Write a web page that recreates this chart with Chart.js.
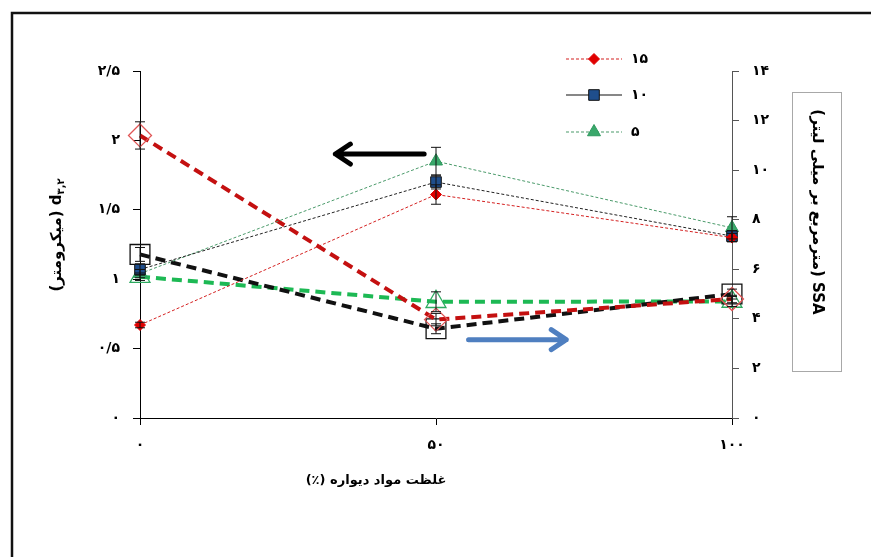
<!DOCTYPE html>
<html>
<head>
<meta charset="utf-8">
<script src="https://cdn.jsdelivr.net/npm/chart.js@4/dist/chart.umd.min.js"></script>
<style>
  html, body { margin: 0; padding: 0; background: #fff; }
  canvas { display: block; }
</style>
</head>
<body>
<canvas id="c" width="871" height="557"></canvas>
<script>
// Wall material concentration (%) on the x axis
const wallPercent = [0, 50, 100];
const xTickLabels = ['۰', '۵۰', '۱۰۰'];
const seriesNames = ['۱۵', '۱۰', '۵'];

// Mean droplet size d3,2 (micrometre) – left axis
const d32_15 = [0.67, 1.61, 1.30];
const d32_10 = [1.07, 1.70, 1.31];
const d32_5  = [1.04, 1.85, 1.37];
const d32_15_err = [0.02, 0.07, 0.03];
const d32_10_err = [0.04, 0.05, 0.04];
const d32_5_err  = [0.03, 0.10, 0.08];
const leftTickLabels = ['۰', '۰/۵', '۱', '۱/۵', '۲', '۲/۵'];

// Specific surface area SSA (m2/mL) – right axis
const ssa_15 = [11.4, 3.97, 4.80];
const ssa_10 = [6.6, 3.60, 5.00];
const ssa_5  = [5.7, 4.69, 4.70];
const ssa_15_err = [0.55, 0.25, 0.15];
const ssa_10_err = [0.28, 0.20, 0.20];
const ssa_5_err  = [0.15, 0.40, 0.20];
const rightTickLabels = ['۰', '۲', '۴', '۶', '۸', '۱۰', '۱۲', '۱۴'];

const toPoints = ys => wallPercent.map((x, i) => ({ x, y: ys[i] }));
const FONT = '"DejaVu Sans", sans-serif';

function thinSet(label, ys, err, color, markerFill, style, radius, lineColor) {
  return {
    label, data: toPoints(ys), errorBars: err, yAxisID: 'yL',
    borderColor: lineColor, borderWidth: 1, borderDash: [3, 2],
    pointStyle: style, pointRadius: radius,
    pointBackgroundColor: markerFill, pointBorderColor: color, pointBorderWidth: 1,
    clip: false, order: 1
  };
}
function thickSet(label, ys, err, lineColor, markerColor, style, radius) {
  return {
    label, data: toPoints(ys), errorBars: err, yAxisID: 'yR',
    borderColor: lineColor, borderWidth: 4, borderDash: [10, 6],
    pointStyle: style, pointRadius: radius,
    pointBackgroundColor: 'rgba(0,0,0,0)', pointBorderColor: markerColor, pointBorderWidth: 1.3,
    clip: false, order: 2
  };
}

const datasets = [
  thinSet(seriesNames[0], d32_15, d32_15_err, '#e00000', '#e00000', 'rectRot', 5.5, '#d42020'),
  thinSet(seriesNames[1], d32_10, d32_10_err, '#111111', '#1f4e8c', 'rect', 7.5, '#222222'),
  thinSet(seriesNames[2], d32_5, d32_5_err, '#2e9a5e', '#3aa86b', 'triangle', 7.5, '#4a9a6a'),
  thickSet('ssa15', ssa_15, ssa_15_err, '#c41010', '#e05555', 'rectRot', 11.5),
  thickSet('ssa10', ssa_10, ssa_10_err, '#111111', '#111111', 'rect', 14),
  thickSet('ssa5', ssa_5, ssa_5_err, '#1db954', '#2eaa60', 'triangle', 11.5)
];

// vertical error whiskers for every point
const errorBarPlugin = {
  id: 'errorBars',
  afterDatasetsDraw(chart) {
    const ctx = chart.ctx;
    ctx.save();
    ctx.strokeStyle = '#111';
    ctx.lineWidth = 1;
    chart.data.datasets.forEach(ds => {
      if (!ds.errorBars) return;
      const xs = chart.scales.x, ys = chart.scales[ds.yAxisID];
      ds.data.forEach((p, i) => {
        const e = ds.errorBars[i];
        const px = xs.getPixelForValue(p.x);
        const top = ys.getPixelForValue(p.y + e), bot = ys.getPixelForValue(p.y - e);
        ctx.beginPath();
        ctx.moveTo(px, top); ctx.lineTo(px, bot);
        ctx.moveTo(px - 5, top); ctx.lineTo(px + 5, top);
        ctx.moveTo(px - 5, bot); ctx.lineTo(px + 5, bot);
        ctx.stroke();
      });
    });
    ctx.restore();
  }
};

function marker(ctx, style, x, y, r, fill, stroke) {
  ctx.beginPath();
  if (style === 'rect') {
    const s = r * Math.SQRT1_2;
    ctx.rect(x - s, y - s, 2 * s, 2 * s);
  } else if (style === 'rectRot') {
    ctx.moveTo(x - r, y); ctx.lineTo(x, y - r); ctx.lineTo(x + r, y); ctx.lineTo(x, y + r); ctx.closePath();
  } else {
    ctx.moveTo(x, y - r);
    ctx.lineTo(x + r * Math.sin(2 * Math.PI / 3), y - r * Math.cos(2 * Math.PI / 3));
    ctx.lineTo(x + r * Math.sin(4 * Math.PI / 3), y - r * Math.cos(4 * Math.PI / 3));
    ctx.closePath();
  }
  ctx.fillStyle = fill; ctx.fill();
  ctx.strokeStyle = stroke; ctx.lineWidth = 1; ctx.stroke();
}

function arrow(ctx, x1, x2, y, color) {
  const dir = Math.sign(x2 - x1);
  ctx.save();
  ctx.strokeStyle = color;
  ctx.lineWidth = 5;
  ctx.lineCap = 'round';
  ctx.lineJoin = 'round';
  ctx.beginPath();
  ctx.moveTo(x1, y); ctx.lineTo(x2, y);
  ctx.moveTo(x2 - dir * 15, y - 10); ctx.lineTo(x2, y); ctx.lineTo(x2 - dir * 15, y + 10);
  ctx.stroke();
  ctx.restore();
}

const decorPlugin = {
  id: 'decor',
  afterDraw(chart) {
    const ctx = chart.ctx;
    const xs = chart.scales.x, yR = chart.scales.yR;
    ctx.save();

    // page frame
    ctx.strokeStyle = '#111';
    ctx.lineWidth = 2.5;
    ctx.beginPath();
    ctx.moveTo(12, 557); ctx.lineTo(12, 13); ctx.lineTo(871, 13);
    ctx.stroke();

    // axis-direction arrows
    arrow(ctx, xs.getPixelForValue(48), xs.getPixelForValue(33), yR.getPixelForValue(10.65), '#000');
    arrow(ctx, xs.getPixelForValue(55.5), xs.getPixelForValue(72), yR.getPixelForValue(3.16), '#4f7fc0');

    // legend
    const rows = [
      { y: 59, dash: [3, 2], line: '#d42020', style: 'rectRot', r: 5.5, fill: '#e00000', stroke: '#e00000' },
      { y: 95, dash: [], line: '#111', style: 'rect', r: 7.5, fill: '#1f4e8c', stroke: '#111' },
      { y: 132, dash: [3, 2], line: '#4a9a6a', style: 'triangle', r: 7.5, fill: '#3aa86b', stroke: '#2e9a5e' }
    ];
    rows.forEach((row, i) => {
      ctx.save();
      ctx.strokeStyle = row.line; ctx.lineWidth = 1.2; ctx.setLineDash(row.dash);
      ctx.beginPath(); ctx.moveTo(566, row.y); ctx.lineTo(622, row.y); ctx.stroke();
      ctx.restore();
      marker(ctx, row.style, 594, row.y, row.r, row.fill, row.stroke);
      ctx.fillStyle = '#000';
      ctx.font = 'bold 14px ' + FONT;
      ctx.textAlign = 'left'; ctx.textBaseline = 'middle';
      ctx.fillText(seriesNames[i], 631, row.y);
    });

    // x title
    ctx.fillStyle = '#000';
    ctx.font = 'bold 13px ' + FONT;
    ctx.textAlign = 'center'; ctx.textBaseline = 'middle';
    ctx.direction = 'rtl';
    ctx.fillText('غلظت مواد دیواره (٪)', 376, 481);

    // left y title: (میکرومتر) d۳,۲ read bottom-to-top
    ctx.save();
    ctx.translate(57, 235);
    ctx.rotate(-Math.PI / 2);
    ctx.direction = 'ltr';
    ctx.textAlign = 'left'; ctx.textBaseline = 'middle';
    const a = '(میکرومتر) ', d = 'd';
    ctx.font = 'bold 15px ' + FONT;
    const wa = ctx.measureText(a).width, wd = ctx.measureText(d).width;
    ctx.font = 'bold 10px ' + FONT;
    const ws = ctx.measureText('۳,۲').width;
    const start = -(wa + wd + ws) / 2;
    ctx.font = 'bold 15px ' + FONT;
    ctx.fillText(a, start, 0);
    ctx.fillText(d, start + wa, 0);
    ctx.font = 'bold 10px ' + FONT;
    ctx.fillText('۳,۲', start + wa + wd, 4);
    ctx.restore();

    // right y title in its box
    ctx.strokeStyle = '#a8a8a8';
    ctx.lineWidth = 1;
    ctx.strokeRect(792.5, 92.5, 49, 279);
    ctx.save();
    ctx.translate(817, 212);
    ctx.rotate(Math.PI / 2);
    ctx.direction = 'rtl';
    ctx.textAlign = 'center'; ctx.textBaseline = 'middle';
    ctx.font = 'bold 15px ' + FONT;
    ctx.fillStyle = '#000';
    ctx.fillText('SSA (مترمربع بر میلی لیتر)', 0, 0);
    ctx.restore();

    ctx.restore();
  }
};

const tickFont = { family: FONT, size: 14, weight: 'bold' };

new Chart(document.getElementById('c'), {
  type: 'line',
  data: { datasets },
  options: {
    responsive: false,
    animation: false,
    devicePixelRatio: 1,
    layout: { padding: { top: 71, left: 0, right: 0, bottom: 0 } },
    plugins: { legend: { display: false }, tooltip: { enabled: false } },
    scales: {
      x: {
        type: 'linear', min: 0, max: 100,
        afterFit: s => { s.height = 139; },
        afterBuildTicks: s => { s.ticks = wallPercent.map(v => ({ value: v })); },
        ticks: { callback: (v, i) => xTickLabels[i], color: '#000', font: tickFont, padding: 12, maxRotation: 0 },
        grid: { drawOnChartArea: false, drawTicks: true, tickLength: 7, color: '#000' },
        border: { display: true, color: '#000', width: 1 }
      },
      yL: {
        position: 'left', min: 0, max: 2.5,
        afterFit: s => { s.width = 140; },
        ticks: { stepSize: 0.5, callback: (v, i) => leftTickLabels[i], color: '#000', font: tickFont, padding: 13 },
        grid: { drawOnChartArea: false, drawTicks: true, tickLength: 7, color: '#000' },
        border: { display: true, color: '#000', width: 1 }
      },
      yR: {
        position: 'right', min: 0, max: 14,
        afterFit: s => { s.width = 139; },
        ticks: { stepSize: 2, callback: (v, i) => rightTickLabels[i], color: '#000', font: tickFont, padding: 13 },
        grid: { drawOnChartArea: false, drawTicks: true, tickLength: 7, color: '#555' },
        border: { display: true, color: '#555', width: 1 }
      }
    }
  },
  plugins: [errorBarPlugin, decorPlugin]
});
</script>
</body>
</html>
